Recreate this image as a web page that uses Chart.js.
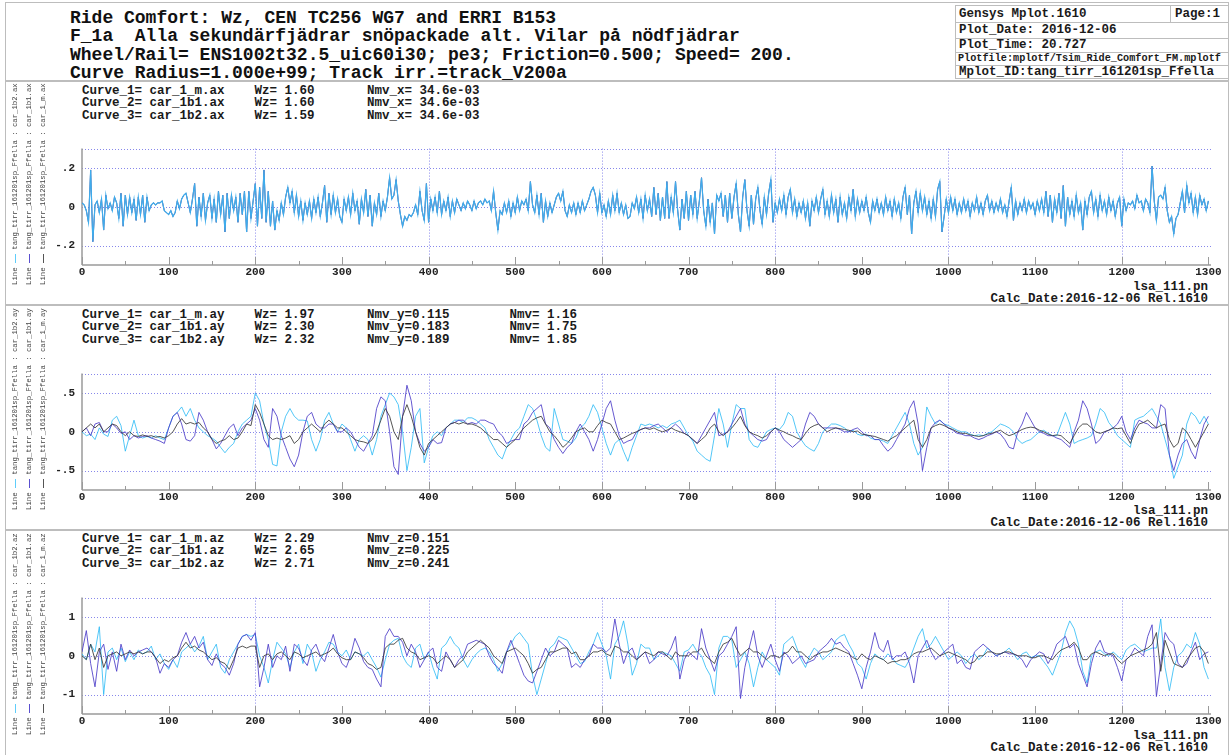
<!DOCTYPE html>
<html>
<head>
<meta charset="utf-8">
<title>Ride Comfort: Wz</title>
<script src="https://cdn.jsdelivr.net/npm/chart.js@4.4.1/dist/chart.umd.min.js"></script>
<style>
  body { margin: 0; width: 1230px; height: 755px; position: relative; overflow: hidden; background: #fff;
         font-family: "Liberation Mono", "DejaVu Sans Mono", monospace; font-weight: bold; color: #1a1a1a; }
  .abs { position: absolute; white-space: pre; }
  .title { left: 70px; top: 9px; font-size: 18px; line-height: 18.4px; color: #111; }
  .curves { left: 82px; font-size: 12.5px; line-height: 12.4px; }
  .calc { right: 22px; font-size: 12.5px; line-height: 12.4px; text-align: right; }
  .rule { position: absolute; background: #bdbdbd; }
  .info { font-size: 12.5px; line-height: 14px; }
  .vlegend { position: absolute; transform-origin: 0 0; transform: rotate(-90deg); font-size: 7.3px; line-height: 8px;
             white-space: pre; color: #444; font-weight: normal; }
  .vlegend span { display: inline-block; width: 9px; border-top: 1px solid; vertical-align: middle; }
  canvas { position: absolute; left: 0; }
</style>
</head>
<body>

<!-- page frame -->
<div class="rule" style="left:5px;top:2px;width:1224px;height:1px"></div>
<div class="rule" style="left:5px;top:2px;width:1px;height:753px"></div>
<div class="rule" style="left:1228px;top:2px;width:1px;height:753px"></div>
<div class="rule" style="left:5px;top:80px;width:1224px;height:2px"></div>
<div class="rule" style="left:5px;top:304px;width:1224px;height:2px"></div>
<div class="rule" style="left:5px;top:529px;width:1224px;height:2px"></div>

<div class="abs title">Ride Comfort: Wz, CEN TC256 WG7 and ERRI B153
F_1a  Alla sekundärfjädrar snöpackade alt. Vilar på nödfjädrar
Wheel/Rail= ENS1002t32.5_uic60i30; pe3; Friction=0.500; Speed= 200.
Curve Radius=1.000e+99; Track irr.=track_V200a</div>

<!-- info box, top right -->
<div class="rule" style="left:955px;top:5px;width:273px;height:1px"></div>
<div class="rule" style="left:955px;top:5px;width:1px;height:73px"></div>
<div class="rule" style="left:955px;top:22px;width:273px;height:1px"></div>
<div class="rule" style="left:955px;top:38px;width:273px;height:1px"></div>
<div class="rule" style="left:955px;top:52px;width:273px;height:1px"></div>
<div class="rule" style="left:955px;top:65px;width:273px;height:1px"></div>
<div class="rule" style="left:955px;top:78px;width:273px;height:1px"></div>
<div class="rule" style="left:1170px;top:5px;width:1px;height:17px"></div>
<div class="abs info" style="left:959px;top:7px">Gensys Mplot.1610</div>
<div class="abs info" style="left:1175px;top:7px">Page:1</div>
<div class="abs info" style="left:959px;top:23px">Plot_Date: 2016-12-06</div>
<div class="abs info" style="left:959px;top:38px">Plot_Time: 20.727</div>
<div class="abs info" style="left:958px;top:52px;font-size:10.2px">Plotfile:mplotf/Tsim_Ride_Comfort_FM.mplotf</div>
<div class="abs info" style="left:959px;top:65px">Mplot_ID:tang_tirr_161201sp_Ffella</div>

<!-- panel texts -->
<div class="abs curves" style="top:85px">Curve_1= car_1_m.ax    Wz= 1.60       Nmv_x= 34.6e-03
Curve_2= car_1b1.ax    Wz= 1.60       Nmv_x= 34.6e-03
Curve_3= car_1b2.ax    Wz= 1.59       Nmv_x= 34.6e-03</div>
<div class="abs curves" style="top:309px">Curve_1= car_1_m.ay    Wz= 1.97       Nmv_y=0.115        Nmv= 1.16
Curve_2= car_1b1.ay    Wz= 2.30       Nmv_y=0.183        Nmv= 1.75
Curve_3= car_1b2.ay    Wz= 2.32       Nmv_y=0.189        Nmv= 1.85</div>
<div class="abs curves" style="top:533px">Curve_1= car_1_m.az    Wz= 2.29       Nmv_z=0.151
Curve_2= car_1b1.az    Wz= 2.65       Nmv_z=0.225
Curve_3= car_1b2.az    Wz= 2.71       Nmv_z=0.241</div>

<div class="abs calc" style="top:281px">lsa_111.pn
Calc_Date:2016-12-06 Rel.1610</div>
<div class="abs calc" style="top:505px">lsa_111.pn
Calc_Date:2016-12-06 Rel.1610</div>
<div class="abs calc" style="top:730px">lsa_111.pn
Calc_Date:2016-12-06 Rel.1610</div>

<canvas id="chartAx" width="1230" height="150" style="top:135px"></canvas>
<canvas id="chartAy" width="1230" height="150" style="top:360px"></canvas>
<canvas id="chartAz" width="1230" height="150" style="top:584px"></canvas>

<script>
// distance axis
var X_TICKS = [0, 100, 200, 300, 400, 500, 600, 700, 800, 900, 1000, 1100, 1200, 1300];
var X_GRID = [200, 400, 600, 800, 1000, 1200];
var X_MAX = 1303;

// sample spacing of the read-off values
var AX_STEP = 2.5;
var AY_STEP = 5;
var AZ_STEP = 5;

// longitudinal acceleration, the three curves lie on top of each other
var axValues = [
  .02,.01,-.02,-.08,.19,-.18,.01,.03,-.03,.04,-.12,.06,-.01,.02,-.02,.05,.02,-.06,.07,-.1,.06,-.04,.05,-.03,.04,-.07,.05,-.04,.06,-.08,.05,-.02,.01,.02,.01,.02,.02,.03,-.02,-.03,
  -.04,-.02,-.05,-.03,.03,-.01,.04,.06,.07,.02,-.03,.04,.12,-.1,.05,-.05,.07,-.07,.02,.06,-.06,.04,-.08,.08,-.04,.06,-.13,.07,-.06,.06,-.02,.05,-.08,.07,-.04,.08,-.13,.08,-.06,.03,
  .12,-.1,.1,-.06,.19,-.08,.08,-.1,.03,-.12,-.02,-.07,.02,-.04,.05,.1,.02,.08,-.03,.06,-.05,.03,-.07,.02,-.04,.03,-.06,.04,-.03,.05,-.05,.02,.11,-.08,.07,-.04,.06,-.03,.04,-.05,
  -.08,.04,-.02,.05,-.04,.07,-.02,.03,-.09,.04,-.03,.09,-.05,.06,-.1,.02,-.04,.07,-.05,.03,-.02,.05,.15,.04,.06,.14,.03,-.04,-.1,-.05,-.07,-.04,-.05,-.03,.01,-.04,.08,-.02,-.07,.12,
  -.08,.04,-.02,.05,-.03,.08,-.04,.03,-.02,.05,-.05,.03,-.03,.04,.01,-.02,.02,-.01,.03,.01,-.02,.03,-.01,.02,.03,.01,.04,.02,.03,-.02,.08,-.03,-.12,-.02,-.04,.02,-.03,.03,-.05,.02,
  -.03,.05,-.02,.03,.01,.04,-.02,.13,.01,-.03,.06,-.04,.07,-.08,.03,-.05,.02,-.03,.01,.05,.07,.03,.08,-.02,-.05,.01,-.03,.02,-.04,.02,-.03,.03,-.02,.01,.04,.08,.1,.06,-.03,.07,
  -.03,.01,-.05,.03,-.04,.06,-.02,.07,-.03,.02,-.04,.01,-.06,-.05,.02,-.01,.05,-.03,.04,-.06,.06,-.02,.04,-.05,.1,-.04,.07,-.07,.05,-.06,.13,-.06,.05,-.03,.13,-.02,-.12,.04,-.06,.08,
  -.07,.06,-.04,.08,-.06,.03,.15,-.02,-.1,.04,-.08,.02,-.14,.06,.03,.07,-.05,.06,-.08,.07,-.06,.05,.12,-.04,-.13,.05,.14,-.02,-.1,.06,-.09,.04,.1,-.02,-.09,.05,-.04,.07,.14,-.08,
  .02,-.03,.04,-.02,.06,-.04,.05,.09,-.03,.04,-.05,.02,-.03,.03,-.06,.02,-.1,.03,-.02,.05,-.03,.04,.09,-.04,.03,-.05,.06,-.03,.04,-.08,.05,-.04,.02,-.06,.05,-.02,.09,-.05,.04,-.03,
  .03,-.02,.05,-.03,-.08,.03,-.02,.04,-.03,.02,-.04,.05,-.02,.03,-.05,.04,-.03,.02,-.06,.05,.1,-.04,.06,-.14,.02,.08,-.03,.07,-.02,.05,-.04,.03,-.06,.04,-.05,.09,.13,-.13,-.05,.04,
  -.03,.05,-.02,.04,-.04,.02,-.03,.04,-.02,.03,-.05,.02,-.02,.05,-.03,.02,-.04,.03,.06,-.02,.03,-.03,.02,-.02,.04,-.03,.01,-.05,.03,.1,-.07,.03,-.04,.02,-.02,.04,-.03,.03,-.01,.02,
  -.04,.03,-.02,.04,-.03,.08,-.05,.06,-.08,.04,-.03,.07,-.06,.11,-.1,.05,-.04,.03,-.05,.06,-.03,.02,-.12,.03,-.04,.05,.08,-.03,.04,-.05,.06,-.02,.03,-.04,.05,-.02,.03,-.05,.02,.05,
  -.1,.04,-.02,.02,.01,.03,-.01,.06,.02,.03,-.02,.04,.02,-.03,.21,.03,-.07,.05,.06,.04,.1,-.02,-.08,-.05,-.14,-.06,-.04,.02,.08,-.03,.11,.02,.07,-.03,.05,-.04,.06,.01,.04,-.02,
  .03
];

// lateral acceleration
var ayBogie2 = [
  0,-.05,-.03,-.1,.05,-.03,-.06,.15,.2,.08,-.25,-.05,.15,-.05,-.08,-.06,-.08,-.05,-.08,-.1,
  .05,.2,.25,.32,.2,.3,.15,.05,0,-.05,-.08,-.12,-.2,-.27,-.2,-.15,0,.1,.15,.2,
  .5,.4,.1,-.1,-.42,-.44,0,.2,.3,.2,.15,.15,.14,-.1,-.25,-.1,.15,.25,.1,0,
  .1,.05,-.1,-.25,-.1,-.05,-.1,-.3,-.1,.2,.35,.5,.45,.35,0,-.5,-.2,.2,.3,-.4,
  -.2,-.05,0,-.05,.05,.1,.15,.15,.12,.18,.18,.15,.1,.05,-.1,-.2,-.3,-.35,-.2,-.1,
  0,.05,.2,.35,.3,.15,-.05,-.2,-.25,.3,.1,-.1,-.12,-.15,-.08,.05,.1,.2,.35,.25,
  .05,-.15,-.3,-.15,-.1,-.25,-.38,-.2,-.05,.1,.08,.1,.08,.05,.08,.05,.1,.12,.15,.05,
  -.05,-.12,-.25,-.3,-.35,-.38,-.05,.3,.1,-.2,.1,.35,.3,.3,-.1,-.18,-.2,-.1,0,.03,
  .05,.03,.1,.25,.2,0,-.1,-.18,-.22,-.25,-.15,0,.05,.1,.1,.08,.05,0,.02,-.03,
  -.05,-.03,-.08,-.1,-.1,-.12,-.15,-.05,.05,.15,.25,.1,-.15,-.3,-.2,.32,.2,.1,.15,.1,
  .08,.05,.02,0,0,-.03,-.05,-.04,-.05,-.02,0,.05,.1,.08,.05,0,-.1,-.15,-.12,-.1,
  -.05,0,.02,-.02,-.05,-.05,.1,.25,.1,-.15,-.12,-.1,-.08,-.05,.1,.3,.25,.12,.05,-.05,
  -.1,-.15,-.2,.15,.18,.2,.25,.3,.2,.1,-.1,-.3,-.6,-.45,-.3,.1,.25,.2,.1,.2,
  .1
];
var ayBogie1 = [
  0,.05,-.05,.1,.12,0,0,.1,.05,-.02,0,-.1,-.05,-.08,-.06,-.05,-.08,-.1,-.12,-.15,
  .05,.2,.25,.1,-.1,-.12,-.05,.25,.15,0,-.1,-.22,-.15,-.05,.05,.1,-.05,.05,.1,.15,
  .3,.15,-.1,-.2,.3,.2,-.05,-.2,-.35,-.45,-.3,0,.2,.25,.1,.05,.05,.1,.1,0,
  0,.05,0,-.1,-.2,-.25,-.15,-.05,.3,.45,.4,0,-.45,-.55,.2,.6,.4,0,-.15,-.25,
  -.2,-.1,-.15,-.14,.05,.1,.12,.15,.15,.1,.12,.1,.15,.15,.12,.1,0,-.05,-.15,-.12,
  -.1,-.1,.1,.15,.25,.3,.35,.1,.05,-.1,-.2,-.28,-.2,-.15,0,.1,0,-.1,-.25,-.1,
  .1,.3,.4,.15,-.05,-.15,-.12,-.1,0,.03,.05,.05,.08,.1,.05,0,.05,.1,.05,-.02,
  -.05,-.1,-.15,-.05,.05,.15,.25,-.05,-.03,0,.1,.2,.3,.1,0,-.05,-.1,-.12,-.1,0,
  .05,0,-.1,-.15,-.2,-.15,-.1,.1,.25,.2,.1,.05,.05,.05,.05,.03,0,0,.03,.05,
  0,-.05,-.05,-.1,-.1,-.18,-.25,-.2,-.1,0,.1,.3,.4,.1,-.5,-.2,.05,.12,.15,.1,
  .05,.02,-.02,-.03,-.05,-.05,-.08,-.1,-.08,-.05,-.03,0,-.03,-.1,-.2,-.22,0,.1,.25,.15,
  .05,0,-.02,-.05,-.05,-.08,-.1,-.15,-.2,0,.15,.4,.3,.1,-.15,-.1,0,.02,.05,.1,
  .2,0,-.1,.05,.15,.12,.1,.05,.05,.35,.3,-.3,-.5,-.3,-.15,-.1,-.25,-.35,-.1,.1,
  .2
];
var ayBody = [
  0,.05,.1,.05,.1,0,.05,.1,.08,0,-.05,0,-.05,-.06,-.04,-.06,-.05,-.07,-.06,-.08,
  -.05,0,.1,.17,.1,.12,.1,.12,.05,0,-.1,-.15,-.12,-.1,-.05,-.1,-.08,0,.1,.08,
  .35,.25,.1,-.05,-.1,-.08,-.1,-.08,-.05,-.15,-.1,0,.05,.1,.05,0,.1,.15,.1,.05,
  .05,0,-.05,-.1,-.12,-.13,-.15,-.1,0,.15,.3,.2,0,-.1,.2,.35,.2,0,-.2,-.3,
  -.15,-.1,-.05,0,.05,.1,.12,.1,.12,.1,.1,.08,.05,0,-.05,-.1,-.1,-.15,-.2,-.15,
  -.1,-.02,.05,.1,.15,.18,.2,.1,0,-.05,-.12,-.2,-.15,-.08,0,.03,.05,0,0,.08,
  .15,.12,.1,0,-.1,-.08,-.05,-.02,0,.03,.05,.03,.05,.02,0,.02,.05,.02,0,-.02,
  -.05,-.1,-.15,-.1,-.05,.05,.1,0,-.05,0,.05,.12,.2,.08,0,-.03,-.05,-.08,-.05,0,
  .05,.02,0,-.03,-.05,-.08,-.1,-.02,.05,.08,.1,.05,0,.03,.05,.04,.03,.02,0,.01,
  -.03,-.04,-.05,-.06,-.08,-.1,-.12,-.08,-.05,0,.05,.1,.15,-.1,-.2,-.1,.05,.08,.1,.08,
  .05,.03,0,-.02,-.02,-.04,-.05,-.06,-.05,-.03,-.02,0,.02,-.02,-.05,-.03,0,.03,.05,.06,
  .05,.02,0,-.03,-.05,-.04,-.05,-.1,-.15,-.05,.05,.1,.1,.05,0,-.02,0,.02,.05,.04,
  .05,-.05,-.15,0,.1,.12,.15,.1,.05,.08,.1,-.1,-.2,-.15,.05,0,-.1,-.2,-.1,0,
  .1
];

// vertical acceleration
var azBogie2 = [
  .05,-.1,.3,.1,.75,-1,.1,.2,-.1,.2,-.15,.1,-.1,.15,.05,.1,.25,-.1,.05,-.2,
  -.35,-.1,-.3,.1,.2,.3,.1,.25,.5,-.1,.1,.3,-.3,-.45,-.1,.1,.3,.5,.55,.5,
  .55,0,-.3,-.7,-.1,.35,.2,.05,-.3,.1,.3,-.2,.3,.1,-.4,-.1,.1,.35,.3,.1,
  0,.15,-.1,.1,.05,0,.1,-.1,-.3,-.55,-.1,.3,.4,.45,0,-.2,-.3,.2,.3,-.1,
  .1,-.3,-.6,.2,.3,.5,.3,.2,-.1,-.3,-.1,.05,.15,.2,.1,-.1,-.4,-.2,.1,.3,
  .5,.6,.45,.3,-.5,-1,-.6,-.2,.2,.3,.5,.45,.4,.2,0,-.2,-.15,.1,.3,.6,
  .3,0,-.6,.3,.5,.9,.3,-.5,-.2,.3,.2,.2,-.1,0,.1,.05,0,-.2,-.4,.1,
  .15,.3,.1,0,-.3,-.5,-1,.2,.5,.5,.4,-.3,-.1,.1,-.2,-.8,-.3,.1,-.1,-.2,
  -.3,-.5,.3,.4,.5,.2,-.1,-.3,0,.2,.1,-.1,0,.1,.4,.5,.55,.3,.1,-.2,
  -.3,-.6,-.2,.05,-.05,-.1,.05,-.05,-.2,-.25,-.3,-.1,.2,.5,.7,.2,.3,.5,.3,.1,
  -.1,0,.1,0,-.2,-.05,.05,-.1,0,.2,.1,0,.05,.1,.2,.05,-.1,.05,.1,-.05,
  0,0,-.15,-.3,-.5,-.2,.1,.6,.9,.7,.3,-.4,-.7,0,.1,.15,.05,0,.1,0,
  -.1,.15,.25,.3,.2,.1,.15,.2,.2,.95,-.3,-.9,-.3,0,.1,.3,.2,.6,.3,-.3,
  -.6
];
var azBogie1 = [
  .1,.65,-.2,-.8,.1,.3,-.35,.1,-.4,.3,-.1,.15,0,.1,.15,.2,.1,-.05,-.45,-.2,
  -.3,-.1,0,.35,.6,.3,.5,.2,.35,-.1,-.25,.05,-.2,-.3,-.5,-.2,.3,.5,.55,.4,
  .6,-.8,-.3,.3,-.3,0,-.1,.25,-.4,.3,.2,-.1,-.25,.15,.3,0,-.15,.2,.55,.1,
  -.2,-.3,0,.45,.2,-.15,-.3,-.35,-.6,-.8,.5,.7,.5,.5,.35,0,.3,.1,-.3,-.1,
  .1,.2,-.3,-.4,.1,-.1,-.3,-.1,0,.3,.35,.4,.35,.3,0,-.2,-.3,-.45,.1,.4,
  .1,-.2,-.5,-.65,-.7,-.4,-.1,.2,0,.1,.4,.3,.2,-.3,-.2,-.3,-.1,0,.3,.2,
  .2,.1,.2,.95,.3,-.2,.1,.2,-.1,0,.1,-.2,-.1,.1,.05,0,.2,.5,-.6,-.1,
  .1,0,-.1,.7,.2,-.1,-.4,0,.1,.3,.5,.75,-1.1,-.3,.2,.65,0,-.3,0,.3,
  -.1,-.4,.1,0,-.2,-.1,0,-.2,-.15,-.1,.1,.2,.3,.45,.3,.35,.2,.1,-.2,-.5,
  -.85,-.3,.1,.6,.2,.1,.4,-.1,0,0,.1,-.2,-.7,0,.2,.4,.1,-.1,0,.1,
  .2,.3,-.2,-.1,-.3,-.35,.1,.2,.3,.2,.1,0,.05,.1,.05,.05,0,-.1,-.3,-.1,
  0,.1,.05,-.2,0,.3,.4,.5,.2,.3,-.2,-.5,-.8,-.2,.2,.4,.1,.05,0,-.3,
  -.65,-.1,0,.2,.1,0,.5,.8,-1.05,-.2,.6,.4,.3,-.2,-.3,-.2,.1,.35,-.1,.05,
  .1
];
var azBody = [
  0,-.1,.3,-.1,.2,-.3,0,.05,.1,0,.05,.1,.05,.1,.05,.1,.1,-.05,-.2,-.1,
  -.15,-.05,0,.2,.35,.2,.25,.15,.1,0,-.1,-.05,-.15,-.2,-.35,-.1,.2,.25,.2,.25,
  .25,-.3,0,.05,-.1,.05,.1,0,-.1,.1,.05,-.05,0,.05,.1,0,.05,.1,.2,.05,
  -.05,-.1,-.1,.1,.05,-.05,-.2,-.25,-.35,-.3,.2,.3,.3,.4,.45,.2,.1,.05,-.1,-.05,
  0,-.05,-.2,-.1,0,-.1,-.3,-.2,-.1,.1,.2,.3,.4,.3,.2,0,-.1,-.2,.1,.15,
  .2,.1,0,-.2,-.45,-.35,-.3,-.1,.1,.1,.15,.2,.2,.05,.1,-.1,-.1,0,.1,.1,
  .15,.05,0,.25,.2,.1,.1,0,-.1,0,.1,.05,0,.1,.1,0,-.1,.1,0,0,
  0,.1,.1,.2,0,-.1,-.2,.1,.3,.35,.45,.2,0,.1,.2,.1,.1,0,-.1,0,
  0,-.05,.05,.1,.25,.1,.1,0,-.1,0,.05,.1,.1,.15,.2,.15,.1,.05,-.05,-.1,
  .05,-.05,-.1,0,-.05,-.1,-.2,-.15,-.15,-.1,-.1,-.05,.05,.1,.1,.15,.2,.1,0,.05,
  .1,.05,0,-.05,-.1,-.2,-.15,0,0,.1,.1,.05,.05,.1,.1,.05,0,0,0,-.05,
  -.05,0,0,-.05,-.1,.05,.15,.2,.25,.35,.2,-.1,-.1,.05,.1,.05,0,.05,.05,-.1,
  -.2,-.1,0,.05,.1,.15,.2,.3,.6,-.4,.4,.1,-.2,-.25,-.3,-.1,.05,.2,.25,.1,
  -.2
];

var CYAN = 'rgba(40,185,245,0.8)';
var CYAN_TOP = 'rgb(62,172,236)';
var PURPLE = 'rgba(75,60,200,0.85)';
var GRAY = 'rgba(55,55,55,0.85)';
var GRID_COLOR = 'rgba(105,105,230,0.8)';
var AXIS_COLOR = '#9a9a9a';
var TICK_FONT = { family: 'Liberation Mono', size: 11, weight: 'bold' };

function toPoints(values, step) {
  return values.map(function (v, i) { return { x: i * step, y: v }; });
}

function series(values, step, color, order, width) {
  return { data: toPoints(values, step), borderColor: color, borderWidth: width || 1, pointRadius: 0, order: order };
}

// draws dotted grid, axis lines and the inward tick marks
var framePlugin = {
  id: 'frame',
  beforeDatasetsDraw: function (chart) {
    var ctx = chart.ctx, a = chart.chartArea;
    var xs = chart.scales.x, ys = chart.scales.y;
    function seg(x1, y1, x2, y2) { ctx.beginPath(); ctx.moveTo(x1, y1); ctx.lineTo(x2, y2); ctx.stroke(); }
    ctx.save();
    ctx.strokeStyle = GRID_COLOR;
    ctx.lineWidth = 1;
    ctx.setLineDash([1, 2]);
    ys.ticks.map(function (t) { return t.value; }).concat([ys.max]).forEach(function (v) {
      var y = Math.round(ys.getPixelForValue(v)) + 0.5;
      seg(a.left, y, a.right, y);
    });
    X_GRID.forEach(function (v) {
      var x = Math.round(xs.getPixelForValue(v)) + 0.5;
      seg(x, a.top, x, a.bottom);
    });
    ctx.setLineDash([]);
    ctx.strokeStyle = AXIS_COLOR;
    ctx.lineWidth = 1;
    for (var v = 0; v <= 1300; v += 50) {
      var x = Math.round(xs.getPixelForValue(v)) + 0.5;
      seg(x, a.bottom, x, a.bottom - (v % 100 === 0 ? 8 : 4));
    }
    ctx.lineWidth = 1.5;
    seg(a.left, a.top, a.left, a.bottom);
    seg(a.left, a.bottom, a.right, a.bottom);
    ctx.restore();
  }
};

function buildPanel(id, p) {
  return new Chart(document.getElementById(id), {
    type: 'line',
    data: { datasets: p.datasets },
    options: {
      responsive: false,
      animation: false,
      events: [],
      layout: { padding: { top: p.padTop, right: 19, left: 0, bottom: 0 }, autoPadding: false },
      plugins: { legend: { display: false }, tooltip: { enabled: false } },
      elements: { line: { tension: 0 } },
      scales: {
        x: {
          type: 'linear', min: 0, max: X_MAX,
          grid: { display: false, drawTicks: false }, border: { display: false },
          ticks: { padding: 1, font: TICK_FONT, color: '#222', maxRotation: 0, autoSkip: false,
                   callback: function (v) { return String(v); } },
          afterBuildTicks: function (s) { s.ticks = X_TICKS.map(function (v) { return { value: v }; }); },
          afterFit: function (s) { s.height = p.axisH; }
        },
        y: {
          min: -p.yMax, max: p.yMax,
          grid: { display: false, drawTicks: false }, border: { display: false },
          ticks: { padding: 7, font: TICK_FONT, color: '#222',
                   callback: function (v) { return v === 0 ? '0' : String(v).replace('0.', '.'); } },
          afterBuildTicks: function (s) { s.ticks = p.yTicks.map(function (v) { return { value: v }; }); },
          afterFit: function (s) { s.width = 82; }
        }
      }
    },
    plugins: [framePlugin]
  });
}

// the three ax curves coincide, only the top one shows
buildPanel('chartAx', {
  padTop: 8, axisH: 20, yMax: 0.3, yTicks: [-0.2, 0, 0.2],
  datasets: [
    series(axValues, AX_STEP, CYAN_TOP, 0, 1.2),
    series(axValues, AX_STEP, PURPLE, 1, 0.6),
    series(axValues, AX_STEP, GRAY, 2, 0.6)
  ]
});
buildPanel('chartAy', {
  padTop: 8, axisH: 20, yMax: 0.75, yTicks: [-0.5, 0, 0.5],
  datasets: [
    series(ayBody, AY_STEP, GRAY, 0),
    series(ayBogie1, AY_STEP, PURPLE, 1),
    series(ayBogie2, AY_STEP, CYAN, 2)
  ]
});
buildPanel('chartAz', {
  padTop: 8, axisH: 20, yMax: 1.5, yTicks: [-1, 0, 1],
  datasets: [
    series(azBody, AZ_STEP, GRAY, 0),
    series(azBogie1, AZ_STEP, PURPLE, 1),
    series(azBogie2, AZ_STEP, CYAN, 2)
  ]
});

// rotated legend strip on the left of each panel
var LEGEND_NAMES = ['car_1b2', 'car_1b1', 'car_1_m'];
var LEGEND_COLORS = ['#5fcdfb', '#5a4fd0', '#555'];
function addLegendStrip(bottom, suffix) {
  LEGEND_NAMES.forEach(function (name, i) {
    var d = document.createElement('div');
    d.className = 'vlegend';
    d.style.left = (11 + i * 14) + 'px';
    d.style.top = bottom + 'px';
    d.innerHTML = 'Line <span style="border-top-color:' + LEGEND_COLORS[i] + '"></span> tang_tirr_161201sp_Ffella : ' + name + '.' + suffix;
    document.body.appendChild(d);
  });
}
addLegendStrip(285, 'ax');
addLegendStrip(510, 'ay');
addLegendStrip(735, 'az');
</script>
</body>
</html>
